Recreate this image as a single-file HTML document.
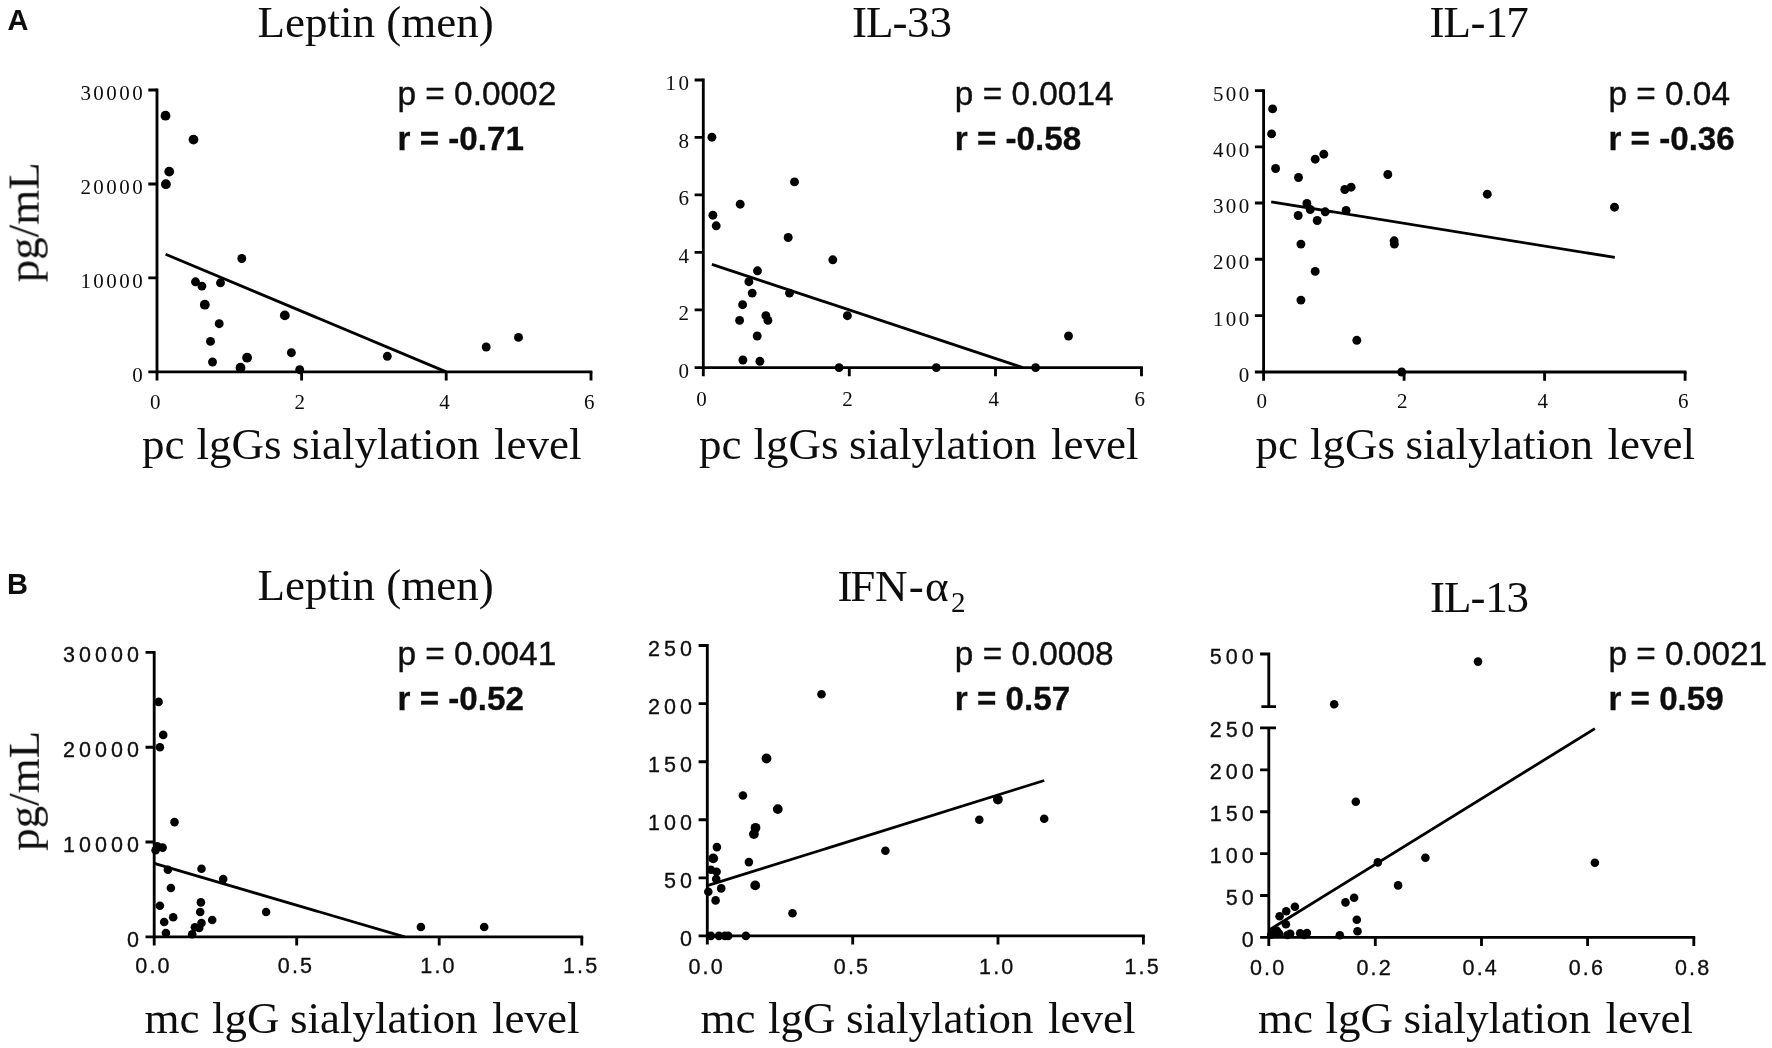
<!DOCTYPE html>
<html lang="en"><head><meta charset="utf-8"><title>Figure</title>
<style>
html,body{margin:0;padding:0;background:#fff}
svg{display:block}
.big{font-family:"Liberation Serif", serif;font-size:45px;fill:#0b0b0b}
.sub{font-size:29px}
.tkA{font-family:"Liberation Serif", serif;font-size:21px;fill:#0b0b0b}
.tkB{font-family:"Liberation Sans", sans-serif;font-size:21.5px;fill:#0b0b0b;stroke:#0b0b0b;stroke-width:.3px}
.pv{font-family:"Liberation Sans", sans-serif;font-size:33.4px;fill:#0b0b0b;stroke:#0b0b0b;stroke-width:.35px}
.rv{font-family:"Liberation Sans", sans-serif;font-size:33.2px;font-weight:bold;fill:#0b0b0b;stroke:#0b0b0b;stroke-width:.3px}
.lab{font-family:"Liberation Sans", sans-serif;font-size:29px;font-weight:bold;fill:#0b0b0b}
.ax{fill:none;stroke:#000;stroke-width:2.85}
.ln{fill:none;stroke:#000;stroke-width:2.8}
.dots circle{fill:#000}
</style></head><body>
<svg width="1772" height="1048" viewBox="0 0 1772 1048">
<defs><filter id="soft" x="0" y="0" width="1772" height="1048" filterUnits="userSpaceOnUse"><feGaussianBlur stdDeviation="0.55"/></filter></defs>
<rect width="1772" height="1048" fill="#fff"/>
<g filter="url(#soft)">
<text class="lab" x="7.4" y="30">A</text>
<text class="lab" x="6.9" y="593.9">B</text>
<text class="big" transform="translate(38.6 282.3) rotate(-90)">pg/mL</text>
<text class="big" transform="translate(38.8 850.8) rotate(-90)">pg/mL</text>
<g class="panel">
<path class="ax" d="M157 88.58V371.9"/>
<path class="ax" d="M148.3 371.9H592.42"/>
<path class="ax" d="M148.3 90H157M148.3 184H157M148.3 277.9H157M157 371.9V380.6M301.6 371.9V380.6M446.2 371.9V380.6M591 371.9V380.6"/>
<text class="tkA" style="letter-spacing:2.45px" text-anchor="end" x="145.15" y="100.2">30000</text>
<text class="tkA" style="letter-spacing:2.45px" text-anchor="end" x="145.15" y="194.2">20000</text>
<text class="tkA" style="letter-spacing:2.45px" text-anchor="end" x="145.15" y="288.1">10000</text>
<text class="tkA" style="letter-spacing:2.45px" text-anchor="end" x="145.15" y="382.1">0</text>
<text class="tkA" style="letter-spacing:2.45px" text-anchor="middle" x="156.42" y="408.7">0</text>
<text class="tkA" style="letter-spacing:2.45px" text-anchor="middle" x="301.03" y="408.7">2</text>
<text class="tkA" style="letter-spacing:2.45px" text-anchor="middle" x="445.62" y="408.7">4</text>
<text class="tkA" style="letter-spacing:2.45px" text-anchor="middle" x="590.43" y="408.7">6</text>
<path class="ln" d="M165.6 254.2L446.2 371.9"/>
<g class="dots">
<circle cx="165.5" cy="115.7" r="4.9"/>
<circle cx="193.5" cy="139.6" r="4.9"/>
<circle cx="169.2" cy="171.6" r="4.9"/>
<circle cx="165.9" cy="184.2" r="4.9"/>
<circle cx="241.8" cy="258.5" r="4.45"/>
<circle cx="195.5" cy="281.8" r="4.45"/>
<circle cx="201.9" cy="286.1" r="4.45"/>
<circle cx="220.5" cy="282.8" r="4.45"/>
<circle cx="204.8" cy="304.7" r="4.9"/>
<circle cx="284.8" cy="315.4" r="4.9"/>
<circle cx="219.2" cy="323.7" r="4.45"/>
<circle cx="210.5" cy="341.4" r="4.45"/>
<circle cx="212.5" cy="362" r="4.45"/>
<circle cx="247.1" cy="357.7" r="4.9"/>
<circle cx="240.5" cy="367.7" r="4.9"/>
<circle cx="291.4" cy="352.7" r="4.45"/>
<circle cx="299.7" cy="369.7" r="4.45"/>
<circle cx="387.3" cy="356.3" r="4.45"/>
<circle cx="486.2" cy="347" r="4.45"/>
<circle cx="518.5" cy="337.4" r="4.45"/>
</g>
<text class="pv" x="397.5" y="105.3">p = 0.0002</text>
<text class="rv" x="397.5" y="149.9">r = -0.71</text>
<text class="big" x="257.5" y="37">Leptin (men)</text>
<text class="big" y="458.7"><tspan x="142">pc</tspan> <tspan x="196.6">lgGs</tspan> <tspan x="292">sialylation</tspan> <tspan x="494">level</tspan></text>
</g>
<g class="panel">
<path class="ax" d="M703.3 78.58V367.6"/>
<path class="ax" d="M694.6 367.6H1142.92"/>
<path class="ax" d="M694.6 80H703.3M694.6 137.3H703.3M694.6 194.8H703.3M694.6 252.3H703.3M694.6 309.9H703.3M703.3 367.6V376.3M849.3 367.6V376.3M995.5 367.6V376.3M1141.5 367.6V376.3"/>
<text class="tkA" style="letter-spacing:2.45px" text-anchor="end" x="691.45" y="90.2">10</text>
<text class="tkA" style="letter-spacing:2.45px" text-anchor="end" x="691.45" y="147.5">8</text>
<text class="tkA" style="letter-spacing:2.45px" text-anchor="end" x="691.45" y="205">6</text>
<text class="tkA" style="letter-spacing:2.45px" text-anchor="end" x="691.45" y="262.5">4</text>
<text class="tkA" style="letter-spacing:2.45px" text-anchor="end" x="691.45" y="320.1">2</text>
<text class="tkA" style="letter-spacing:2.45px" text-anchor="end" x="691.45" y="377.8">0</text>
<text class="tkA" style="letter-spacing:2.45px" text-anchor="middle" x="702.73" y="405.6">0</text>
<text class="tkA" style="letter-spacing:2.45px" text-anchor="middle" x="848.73" y="405.6">2</text>
<text class="tkA" style="letter-spacing:2.45px" text-anchor="middle" x="994.93" y="405.6">4</text>
<text class="tkA" style="letter-spacing:2.45px" text-anchor="middle" x="1140.92" y="405.6">6</text>
<path class="ln" d="M711.9 264.3L1022.9 367.6"/>
<g class="dots">
<circle cx="711.9" cy="137.2" r="4.45"/>
<circle cx="794.5" cy="181.9" r="4.45"/>
<circle cx="740.2" cy="204.2" r="4.45"/>
<circle cx="712.9" cy="215.2" r="4.45"/>
<circle cx="716.2" cy="225.8" r="4.45"/>
<circle cx="788.2" cy="237.5" r="4.45"/>
<circle cx="832.8" cy="259.8" r="4.45"/>
<circle cx="757.5" cy="270.8" r="4.45"/>
<circle cx="748.9" cy="281.7" r="4.45"/>
<circle cx="752.2" cy="293.1" r="4.45"/>
<circle cx="789.5" cy="293.1" r="4.45"/>
<circle cx="742.6" cy="304.7" r="4.45"/>
<circle cx="739.6" cy="320.4" r="4.45"/>
<circle cx="765.9" cy="315.7" r="4.45"/>
<circle cx="767.9" cy="320.4" r="4.45"/>
<circle cx="847.4" cy="315.7" r="4.45"/>
<circle cx="757.2" cy="336" r="4.45"/>
<circle cx="742.9" cy="360" r="4.45"/>
<circle cx="759.9" cy="361.3" r="4.45"/>
<circle cx="839.1" cy="367.6" r="4.45"/>
<circle cx="936.3" cy="367.6" r="4.45"/>
<circle cx="1035.6" cy="367.6" r="4.45"/>
<circle cx="1068.5" cy="336" r="4.45"/>
</g>
<text class="pv" x="954.8" y="105.3">p = 0.0014</text>
<text class="rv" x="954.8" y="149.9">r = -0.58</text>
<text class="big" x="851.9" y="37">I<tspan dx="-0.9">L</tspan><tspan dx="-1">-</tspan><tspan dx="-0.6">3</tspan>3</text>
<text class="big" y="458.7"><tspan x="699">pc</tspan> <tspan x="753.6">lgGs</tspan> <tspan x="849">sialylation</tspan> <tspan x="1051">level</tspan></text>
</g>
<g class="panel">
<path class="ax" d="M1263.6 89.17V372"/>
<path class="ax" d="M1254.9 372H1686.52"/>
<path class="ax" d="M1254.9 90.6H1263.6M1254.9 146.8H1263.6M1254.9 203H1263.6M1254.9 259.2H1263.6M1254.9 315.6H1263.6M1263.6 372V380.7M1404.1 372V380.7M1544.6 372V380.7M1685.1 372V380.7"/>
<text class="tkA" style="letter-spacing:2.45px" text-anchor="end" x="1251.75" y="100.8">500</text>
<text class="tkA" style="letter-spacing:2.45px" text-anchor="end" x="1251.75" y="157">400</text>
<text class="tkA" style="letter-spacing:2.45px" text-anchor="end" x="1251.75" y="213.2">300</text>
<text class="tkA" style="letter-spacing:2.45px" text-anchor="end" x="1251.75" y="269.4">200</text>
<text class="tkA" style="letter-spacing:2.45px" text-anchor="end" x="1251.75" y="325.8">100</text>
<text class="tkA" style="letter-spacing:2.45px" text-anchor="end" x="1251.75" y="382.2">0</text>
<text class="tkA" style="letter-spacing:2.45px" text-anchor="middle" x="1263.02" y="408.3">0</text>
<text class="tkA" style="letter-spacing:2.45px" text-anchor="middle" x="1403.52" y="408.3">2</text>
<text class="tkA" style="letter-spacing:2.45px" text-anchor="middle" x="1544.02" y="408.3">4</text>
<text class="tkA" style="letter-spacing:2.45px" text-anchor="middle" x="1684.52" y="408.3">6</text>
<path class="ln" d="M1271.2 201.8L1614.8 257.4"/>
<g class="dots">
<circle cx="1272.6" cy="108.9" r="4.45"/>
<circle cx="1271.6" cy="133.9" r="4.45"/>
<circle cx="1275.6" cy="168.5" r="4.45"/>
<circle cx="1298.5" cy="177.5" r="4.45"/>
<circle cx="1315.2" cy="159.2" r="4.45"/>
<circle cx="1323.8" cy="154.2" r="4.45"/>
<circle cx="1387.8" cy="174.5" r="4.45"/>
<circle cx="1344.8" cy="189.5" r="4.45"/>
<circle cx="1351.1" cy="187.2" r="4.45"/>
<circle cx="1487.3" cy="194.2" r="4.45"/>
<circle cx="1614.5" cy="207.2" r="4.45"/>
<circle cx="1306.9" cy="203.5" r="4.45"/>
<circle cx="1310.2" cy="209.5" r="4.45"/>
<circle cx="1298.2" cy="215.5" r="4.45"/>
<circle cx="1325.2" cy="211.8" r="4.45"/>
<circle cx="1346.1" cy="210.5" r="4.45"/>
<circle cx="1317.2" cy="220.5" r="4.45"/>
<circle cx="1300.9" cy="244.1" r="4.45"/>
<circle cx="1394.1" cy="240.8" r="4.45"/>
<circle cx="1394.4" cy="244.1" r="4.45"/>
<circle cx="1315.2" cy="271.4" r="4.45"/>
<circle cx="1300.9" cy="300.1" r="4.45"/>
<circle cx="1356.8" cy="340.3" r="4.45"/>
<circle cx="1401.7" cy="372" r="4.45"/>
</g>
<text class="pv" x="1608.4" y="105.3">p = 0.04</text>
<text class="rv" x="1608.4" y="149.9">r = -0.36</text>
<text class="big" x="1429.4" y="37">I<tspan dx="-1">L</tspan><tspan dx="-0.4">-</tspan><tspan dx="-0.1">1</tspan><tspan dx="-1.6">7</tspan></text>
<text class="big" y="458.7"><tspan x="1255.5">pc</tspan> <tspan x="1310.1">lgGs</tspan> <tspan x="1405.5">sialylation</tspan> <tspan x="1607.5">level</tspan></text>
</g>
<g class="panel">
<path class="ax" d="M154.2 650.88V936.9"/>
<path class="ax" d="M145.5 936.9H583.22"/>
<path class="ax" d="M145.5 652.3H154.2M145.5 747.2H154.2M145.5 842H154.2M154.2 936.9V945.6M296.7 936.9V945.6M439.2 936.9V945.6M581.8 936.9V945.6"/>
<text class="tkB" style="letter-spacing:4.05px" text-anchor="end" x="142.95" y="662.3">30000</text>
<text class="tkB" style="letter-spacing:4.05px" text-anchor="end" x="142.95" y="757.2">20000</text>
<text class="tkB" style="letter-spacing:4.05px" text-anchor="end" x="142.95" y="852">10000</text>
<text class="tkB" style="letter-spacing:4.05px" text-anchor="end" x="142.95" y="946.9">0</text>
<text class="tkB" style="letter-spacing:2.15px" text-anchor="middle" x="153.47" y="973.3">0.0</text>
<text class="tkB" style="letter-spacing:2.15px" text-anchor="middle" x="295.97" y="973.3">0.5</text>
<text class="tkB" style="letter-spacing:2.15px" text-anchor="middle" x="438.47" y="973.3">1.0</text>
<text class="tkB" style="letter-spacing:2.15px" text-anchor="middle" x="581.08" y="973.3">1.5</text>
<path class="ln" d="M154.2 863.4L404.6 936.9"/>
<g class="dots">
<circle cx="158.6" cy="701.9" r="4.3"/>
<circle cx="163.2" cy="734.9" r="4.3"/>
<circle cx="159.9" cy="747.2" r="4.3"/>
<circle cx="174.5" cy="822.1" r="4.3"/>
<circle cx="157.3" cy="846.4" r="4.3"/>
<circle cx="155.6" cy="850.2" r="4.3"/>
<circle cx="162.6" cy="847.6" r="4.3"/>
<circle cx="167.9" cy="869.7" r="4.3"/>
<circle cx="201.5" cy="868.7" r="4.3"/>
<circle cx="223.2" cy="879.1" r="4.3"/>
<circle cx="170.9" cy="888" r="4.3"/>
<circle cx="200.9" cy="902.4" r="4.3"/>
<circle cx="159.9" cy="905.7" r="4.3"/>
<circle cx="200.2" cy="912" r="4.3"/>
<circle cx="266.1" cy="912" r="4.3"/>
<circle cx="173.2" cy="917.3" r="4.3"/>
<circle cx="164.2" cy="922" r="4.3"/>
<circle cx="212.2" cy="920" r="4.3"/>
<circle cx="201.5" cy="923" r="4.3"/>
<circle cx="194.9" cy="927.3" r="4.3"/>
<circle cx="199.2" cy="928" r="4.3"/>
<circle cx="165.9" cy="933" r="4.3"/>
<circle cx="192.2" cy="934.3" r="4.3"/>
<circle cx="420.9" cy="927" r="4.3"/>
<circle cx="484.2" cy="927" r="4.3"/>
</g>
<text class="pv" x="397.5" y="665.3">p = 0.0041</text>
<text class="rv" x="397.5" y="709.9">r = -0.52</text>
<text class="big" x="257.5" y="600">Leptin (men)</text>
<text class="big" y="1032.5"><tspan x="144.5">mc</tspan> <tspan x="212">lgG</tspan> <tspan x="290">sialylation</tspan> <tspan x="492">level</tspan></text>
</g>
<g class="panel">
<path class="ax" d="M707.3 644.08V935.9"/>
<path class="ax" d="M698.6 935.9H1144.83"/>
<path class="ax" d="M698.6 645.5H707.3M698.6 703.6H707.3M698.6 761.7H707.3M698.6 819.7H707.3M698.6 877.8H707.3M707.3 935.9V944.6M852.7 935.9V944.6M998 935.9V944.6M1143.4 935.9V944.6"/>
<text class="tkB" style="letter-spacing:4.05px" text-anchor="end" x="696.05" y="655.5">250</text>
<text class="tkB" style="letter-spacing:4.05px" text-anchor="end" x="696.05" y="713.6">200</text>
<text class="tkB" style="letter-spacing:4.05px" text-anchor="end" x="696.05" y="771.7">150</text>
<text class="tkB" style="letter-spacing:4.05px" text-anchor="end" x="696.05" y="829.7">100</text>
<text class="tkB" style="letter-spacing:4.05px" text-anchor="end" x="696.05" y="887.8">50</text>
<text class="tkB" style="letter-spacing:4.05px" text-anchor="end" x="696.05" y="945.9">0</text>
<text class="tkB" style="letter-spacing:2.15px" text-anchor="middle" x="706.58" y="974">0.0</text>
<text class="tkB" style="letter-spacing:2.15px" text-anchor="middle" x="851.98" y="974">0.5</text>
<text class="tkB" style="letter-spacing:2.15px" text-anchor="middle" x="997.28" y="974">1.0</text>
<text class="tkB" style="letter-spacing:2.15px" text-anchor="middle" x="1142.68" y="974">1.5</text>
<path class="ln" d="M707.3 885.7L1044.2 780.5"/>
<g class="dots">
<circle cx="821.5" cy="694.3" r="4.3"/>
<circle cx="766.5" cy="758.5" r="4.9"/>
<circle cx="742.9" cy="795.5" r="4.3"/>
<circle cx="777.8" cy="809.1" r="4.9"/>
<circle cx="755.5" cy="827.8" r="4.9"/>
<circle cx="753.9" cy="834.1" r="4.9"/>
<circle cx="997.9" cy="799.5" r="4.9"/>
<circle cx="979.3" cy="819.8" r="4.3"/>
<circle cx="1044.2" cy="818.8" r="4.3"/>
<circle cx="885.4" cy="850.7" r="4.3"/>
<circle cx="716.9" cy="847.1" r="4.3"/>
<circle cx="713.2" cy="858.4" r="4.9"/>
<circle cx="748.9" cy="862.1" r="4.3"/>
<circle cx="710.9" cy="869.7" r="4.3"/>
<circle cx="716.6" cy="871.7" r="4.3"/>
<circle cx="716.2" cy="879" r="4.3"/>
<circle cx="755.2" cy="885.4" r="4.9"/>
<circle cx="721.2" cy="888.4" r="4.3"/>
<circle cx="708.3" cy="891.7" r="4.3"/>
<circle cx="715.6" cy="900.4" r="4.3"/>
<circle cx="792.5" cy="913.3" r="4.3"/>
<circle cx="710.9" cy="935.9" r="4.3"/>
<circle cx="718.9" cy="935.9" r="4.3"/>
<circle cx="724.9" cy="935.9" r="4.3"/>
<circle cx="728.2" cy="935.9" r="4.3"/>
<circle cx="745.9" cy="935.9" r="4.3"/>
</g>
<text class="pv" x="954.8" y="665.3">p = 0.0008</text>
<text class="rv" x="954.8" y="709.9">r = 0.57</text>
<text class="big" x="837.6" y="601">I<tspan dx="-2.3">F</tspan><tspan dx="-0.4">N</tspan><tspan dx="1.4">-</tspan><tspan dx="1.2">α</tspan><tspan class="sub" dx="2.5" dy="10.5">2</tspan></text>
<text class="big" y="1032.5"><tspan x="700.5">mc</tspan> <tspan x="768">lgG</tspan> <tspan x="846">sialylation</tspan> <tspan x="1048">level</tspan></text>
</g>
<g class="panel">
<path class="ax" d="M1260.1 654H1268.8V706.6M1261.4 706.6H1276"/>
<path class="ax" d="M1260.1 727.9H1276M1268.8 727.9V937.4"/>
<path class="ax" d="M1260.1 937.4H1695.22"/>
<path class="ax" d="M1260.1 769.8H1268.8M1260.1 811.7H1268.8M1260.1 853.6H1268.8M1260.1 895.5H1268.8M1268.8 937.4V946.1M1375.3 937.4V946.1M1481.5 937.4V946.1M1587.6 937.4V946.1M1693.8 937.4V946.1"/>
<text class="tkB" style="letter-spacing:4.05px" text-anchor="end" x="1257.85" y="663.5">500</text>
<text class="tkB" style="letter-spacing:4.05px" text-anchor="end" x="1257.85" y="737.4">250</text>
<text class="tkB" style="letter-spacing:4.05px" text-anchor="end" x="1257.85" y="779.3">200</text>
<text class="tkB" style="letter-spacing:4.05px" text-anchor="end" x="1257.85" y="821.2">150</text>
<text class="tkB" style="letter-spacing:4.05px" text-anchor="end" x="1257.85" y="863.1">100</text>
<text class="tkB" style="letter-spacing:4.05px" text-anchor="end" x="1257.85" y="905">50</text>
<text class="tkB" style="letter-spacing:4.05px" text-anchor="end" x="1257.85" y="946.9">0</text>
<text class="tkB" style="letter-spacing:2.15px" text-anchor="middle" x="1268.08" y="974.5">0.0</text>
<text class="tkB" style="letter-spacing:2.15px" text-anchor="middle" x="1374.58" y="974.5">0.2</text>
<text class="tkB" style="letter-spacing:2.15px" text-anchor="middle" x="1480.78" y="974.5">0.4</text>
<text class="tkB" style="letter-spacing:2.15px" text-anchor="middle" x="1586.88" y="974.5">0.6</text>
<text class="tkB" style="letter-spacing:2.15px" text-anchor="middle" x="1693.08" y="974.5">0.8</text>
<path class="ln" d="M1268.8 930.2L1594.9 728.6"/>
<g class="dots">
<circle cx="1478" cy="661.6" r="4.3"/>
<circle cx="1334.2" cy="704.2" r="4.3"/>
<circle cx="1355.8" cy="801.8" r="4.3"/>
<circle cx="1377.8" cy="862.4" r="4.3"/>
<circle cx="1425.4" cy="857.7" r="4.3"/>
<circle cx="1594.9" cy="862.7" r="4.3"/>
<circle cx="1398.1" cy="885.4" r="4.3"/>
<circle cx="1354.1" cy="897.7" r="4.3"/>
<circle cx="1345.5" cy="902.4" r="4.3"/>
<circle cx="1294.9" cy="906.7" r="4.3"/>
<circle cx="1286.2" cy="911.3" r="4.3"/>
<circle cx="1279.6" cy="916.3" r="4.3"/>
<circle cx="1356.8" cy="919.7" r="4.3"/>
<circle cx="1285.9" cy="924.3" r="4.3"/>
<circle cx="1357.5" cy="931.3" r="4.3"/>
<circle cx="1276.9" cy="930.7" r="4.3"/>
<circle cx="1273.6" cy="933" r="4.3"/>
<circle cx="1279.2" cy="933.7" r="4.3"/>
<circle cx="1290.2" cy="933.7" r="4.3"/>
<circle cx="1287.5" cy="935" r="4.3"/>
<circle cx="1300.2" cy="933.3" r="4.3"/>
<circle cx="1306.9" cy="933" r="4.3"/>
<circle cx="1304.2" cy="935" r="4.3"/>
<circle cx="1339.8" cy="935.3" r="4.3"/>
<circle cx="1271.2" cy="934.7" r="4.3"/>
</g>
<text class="pv" x="1608.4" y="665.3">p = 0.0021</text>
<text class="rv" x="1608.4" y="709.9">r = 0.59</text>
<text class="big" x="1429.9" y="611.5">I<tspan dx="-1">L</tspan><tspan dx="-0.9">-</tspan><tspan dx="-0.3">1</tspan><tspan dx="-1.2">3</tspan></text>
<text class="big" y="1032.5"><tspan x="1258">mc</tspan> <tspan x="1325.5">lgG</tspan> <tspan x="1403.5">sialylation</tspan> <tspan x="1605.5">level</tspan></text>
</g>
</g>
</svg></body></html>
